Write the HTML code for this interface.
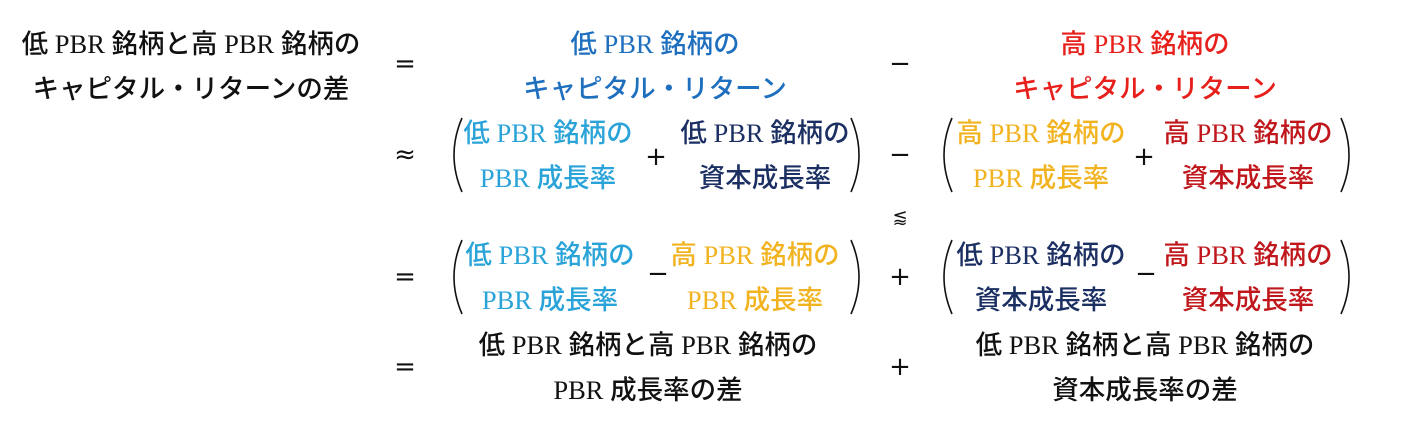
<!DOCTYPE html>
<html><head><meta charset="utf-8"><style>
body{margin:0;width:1420px;height:422px;background:#fff;position:relative;overflow:hidden;font-family:"Liberation Serif","Noto Sans CJK JP",sans-serif;font-size:26.5px;font-weight:500}
.t{position:absolute;white-space:nowrap;transform:translate(-50%,-50%);line-height:1}
.o{position:absolute;transform:translate(-50%,-50%);font-family:"DejaVu Sans",sans-serif;font-size:26px;font-weight:400;line-height:1;color:#111}
.b{color:#1f6fbf}.r{color:#e8201c}.lb{color:#29a3d8}.nv{color:#1b2f63}.y{color:#f2b320}.dr{color:#c0171c}.k{color:#111}
svg{position:absolute}
</style></head><body>
<div class="t k" style="left:191px;top:44px">低 PBR 銘柄と高 PBR 銘柄の</div>
<div class="t k" style="left:191px;top:89px">キャピタル・リターンの差</div>
<div class="o" style="left:405px;top:64px">=</div>

<div class="t b" style="left:655px;top:44px">低 PBR 銘柄の</div>
<div class="t b" style="left:655px;top:89px">キャピタル・リターン</div>
<div class="o" style="left:900px;top:64px">−</div>
<div class="t r" style="left:1145px;top:44px">高 PBR 銘柄の</div>
<div class="t r" style="left:1145px;top:89px">キャピタル・リターン</div>

<div class="o" style="left:405px;top:155px">≈</div>
<div class="t lb" style="left:548px;top:133px">低 PBR 銘柄の</div>
<div class="t lb" style="left:548px;top:178px">PBR 成長率</div>
<div class="o" style="left:656px;top:157px">+</div>
<div class="t nv" style="left:765px;top:133px">低 PBR 銘柄の</div>
<div class="t nv" style="left:765px;top:178px">資本成長率</div>
<div class="o" style="left:900px;top:155px">−</div>
<div class="t y" style="left:1041px;top:133px">高 PBR 銘柄の</div>
<div class="t y" style="left:1041px;top:178px">PBR 成長率</div>
<div class="o" style="left:1144px;top:157px">+</div>
<div class="t dr" style="left:1248px;top:133px">高 PBR 銘柄の</div>
<div class="t dr" style="left:1248px;top:178px">資本成長率</div>

<div class="o" style="left:900px;top:218px;font-size:18px">⪅</div>

<div class="o" style="left:405px;top:277px">=</div>
<div class="t lb" style="left:550px;top:255px">低 PBR 銘柄の</div>
<div class="t lb" style="left:550px;top:300px">PBR 成長率</div>
<div class="o" style="left:658px;top:274px">−</div>
<div class="t y" style="left:755px;top:255px">高 PBR 銘柄の</div>
<div class="t y" style="left:755px;top:300px">PBR 成長率</div>
<div class="o" style="left:900px;top:277px">+</div>
<div class="t nv" style="left:1041px;top:255px">低 PBR 銘柄の</div>
<div class="t nv" style="left:1041px;top:300px">資本成長率</div>
<div class="o" style="left:1146px;top:274px">−</div>
<div class="t dr" style="left:1248px;top:255px">高 PBR 銘柄の</div>
<div class="t dr" style="left:1248px;top:300px">資本成長率</div>

<div class="o" style="left:405px;top:367px">=</div>
<div class="t k" style="left:648px;top:345px">低 PBR 銘柄と高 PBR 銘柄の</div>
<div class="t k" style="left:648px;top:390px">PBR 成長率の差</div>
<div class="o" style="left:900px;top:367px">+</div>
<div class="t k" style="left:1145px;top:345px">低 PBR 銘柄と高 PBR 銘柄の</div>
<div class="t k" style="left:1145px;top:390px">資本成長率の差</div>

<svg width="1420" height="422" style="left:0;top:0">
<g fill="none" stroke="#111" stroke-width="1.6">
<path d="M462 118 Q446 155 462 192"/>
<path d="M851 118 Q867 155 851 192"/>
<path d="M952 118 Q936 155 952 192"/>
<path d="M1341 118 Q1357 155 1341 192"/>
<path d="M462 240 Q446 277 462 314"/>
<path d="M851 240 Q867 277 851 314"/>
<path d="M952 240 Q936 277 952 314"/>
<path d="M1341 240 Q1357 277 1341 314"/>
</g></svg>
</body></html>
